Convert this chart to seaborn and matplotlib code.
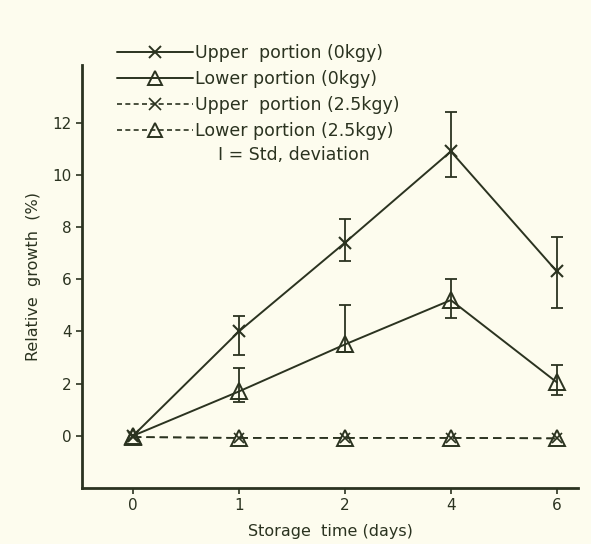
import numpy as np
import pandas as pd
import matplotlib
matplotlib.use("Agg")
import matplotlib.pyplot as plt
import seaborn as sns
from matplotlib.lines import Line2D

# Data
days = ["0", "1", "2", "4", "6"]
upper_0 = [0.0, 4.0, 7.4, 10.9, 6.3]
upper_0_lo = [0.0, 3.1, 6.7, 9.9, 4.9]
upper_0_hi = [0.0, 4.6, 8.3, 12.4, 7.6]
lower_0 = [0.0, 1.7, 3.5, 5.2, 2.05]
lower_0_lo = [0.0, 1.3, 3.2, 4.5, 1.55]
lower_0_hi = [0.0, 2.6, 5.0, 6.0, 2.7]
upper_25 = [-0.05, -0.08, -0.08, -0.08, -0.1]
lower_25 = [-0.05, -0.08, -0.08, -0.08, -0.1]

ink = "#2b3320"
paper = "#fdfcee"

sns.set_style("ticks")
plt.rcParams['font.family'] = ['DejaVu Sans']

fig = plt.figure(figsize=(5.91, 5.44), dpi=100, facecolor=paper)
ax = fig.add_axes([0.139, 0.103, 0.839, 0.777])
ax.set_facecolor(paper)

pos = np.arange(len(days))
df = pd.DataFrame({"pos": pos, "u0": upper_0, "l0": lower_0,
                   "u25": upper_25, "l25": lower_25})

# 0 kGy series (solid)
sns.lineplot(data=df, x="pos", y="u0", ax=ax, color=ink, lw=1.4,
             marker="x", markersize=8, mew=1.5, mec=ink)
sns.lineplot(data=df, x="pos", y="l0", ax=ax, color=ink, lw=1.4,
             marker="^", markersize=11, mfc="none", mec=ink, mew=1.4)
# 2.5 kGy series (dashed)
sns.lineplot(data=df, x="pos", y="u25", ax=ax, color=ink, lw=1.2,
             linestyle=(0, (5, 3)), marker="x", markersize=7, mew=1.2, mec=ink)
sns.lineplot(data=df, x="pos", y="l25", ax=ax, color=ink, lw=1.2,
             linestyle=(0, (5, 3)), marker="^", markersize=11,
             mfc="none", mec=ink, mew=1.4)

# std deviation bars
for mean, lo, hi in [(upper_0, upper_0_lo, upper_0_hi),
                     (lower_0, lower_0_lo, lower_0_hi)]:
    m = np.array(mean)
    err = [m - np.array(lo), np.array(hi) - m]
    ax.errorbar(pos[1:], m[1:], yerr=[err[0][1:], err[1][1:]], fmt="none",
                ecolor=ink, elinewidth=1.3, capsize=4, capthick=1.3)

ax.set_xlim(-0.48, 4.2)
ax.set_ylim(-2, 14.2)
ax.set_xticks(pos)
ax.set_xticklabels(days)
ax.set_yticks(range(0, 13, 2))
ax.tick_params(colors=ink, labelsize=11, length=4, width=1.2)
for lab in ax.get_xticklabels() + ax.get_yticklabels():
    lab.set_color(ink)
sns.despine(ax=ax)
for s in ["left", "bottom"]:
    ax.spines[s].set_color(ink)
    ax.spines[s].set_linewidth(2)

ax.set_xlabel("Storage  time (days)", fontsize=11.5, color=ink, labelpad=8)
ax.set_ylabel("Relative  growth  (%)", fontsize=11.5, color=ink, labelpad=8)

handles = [
    Line2D([], [], color=ink, lw=1.4, marker="x", markersize=8, mew=1.4),
    Line2D([], [], color=ink, lw=1.4, marker="^", markersize=10, mfc="none", mew=1.4),
    Line2D([], [], color=ink, lw=1.2, ls=(0, (3, 2)), marker="x", markersize=8, mew=1.2),
    Line2D([], [], color=ink, lw=1.2, ls=(0, (3, 2)), marker="^", markersize=10, mfc="none", mew=1.4),
]
labels = ["Upper  portion (0kgy)", "Lower portion (0kgy)",
          "Upper  portion (2.5kgy)", "Lower portion (2.5kgy)"]
leg = ax.legend(handles, labels, loc="upper left", bbox_to_anchor=(0.07, 1.05),
                frameon=False, fontsize=12.5, handlelength=4.4, handletextpad=0.1,
                labelspacing=0.45, borderaxespad=0, borderpad=0)
for t in leg.get_texts():
    t.set_color(ink)
ax.text(0.274, 0.787, "I = Std, deviation", transform=ax.transAxes,
        fontsize=12.5, color=ink, va="center")

fig.savefig("out.png", dpi=100, facecolor=paper)
